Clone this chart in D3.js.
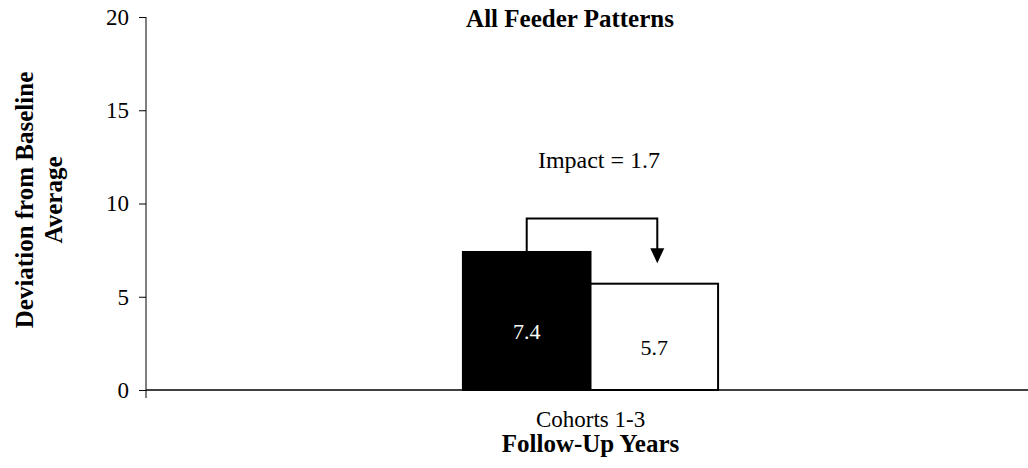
<!DOCTYPE html>
<html lang="en">
<head>
<meta charset="UTF-8">
<title>All Feeder Patterns</title>
<style>
    body { margin: 0; background: #fff; }
    .bold { font-weight: bold; }
</style>
<script src="https://cdn.jsdelivr.net/npm/d3@7"></script>
</head>
<body>
<svg width="1028" height="468"></svg>
<script>
    // data
    var categories = ["Cohorts 1-3"];
    var series = ["Baseline", "Follow-Up"];
    var values = [7.4, 5.7];
    var barFills = ["#000", "#fff"];
    var labelFills = ["#fff", "#000"];
    var yTicks = [0, 5, 10, 15, 20];
    var impactText = "Impact = 1.7";
    var bracketTop = 9.2;   // value where the arrow bracket runs
    var arrowTip = 6.8;

    var serif = "'Liberation Serif', 'Times New Roman', serif";
    var svg = d3.select("svg");

    var mLeft = 146, mRight = 1028, mTop = 17, mBottom = 390;

    var y = d3.scaleLinear().domain([0, 20]).range([mBottom, mTop]);

    var x0 = d3.scaleBand().domain(categories).range([mLeft, 1035]).padding(0.554);
    var x1 = d3.scaleBand().domain(series).range([0, x0.bandwidth()]);

    // y axis
    var yAxis = d3.axisLeft(y).tickValues(yTicks).tickSize(7).tickPadding(10);
    var gy = svg.append("g").attr("transform", "translate(" + mLeft + ",0)").call(yAxis);
    gy.select(".domain").remove();
    gy.selectAll("line").attr("stroke", "#000");
    gy.selectAll("text").style("font-size", "23px").attr("fill", "#000");
    gy.append("line").attr("x1", 0).attr("x2", 0).attr("y1", mTop).attr("y2", mBottom + 8).attr("stroke", "#000");

    // bars
    var g = svg.append("g");
    g.selectAll("rect")
        .data(values)
        .enter().append("rect")
        .attr("x", function (d, i) { return x0(categories[0]) + x1(series[i]); })
        .attr("y", function (d) { return y(d); })
        .attr("width", x1.bandwidth())
        .attr("height", function (d) { return mBottom - y(d); })
        .attr("fill", function (d, i) { return barFills[i]; })
        .attr("stroke", "#000")
        .attr("stroke-width", 2);

    g.selectAll("text.val")
        .data(values)
        .enter().append("text")
        .attr("class", "val")
        .attr("x", function (d, i) { return x0(categories[0]) + x1(series[i]) + x1.bandwidth() / 2; })
        .attr("y", function (d) { return (y(d) + mBottom) / 2 + 18; })
        .attr("text-anchor", "middle")
        .style("font-size", "22px")
        .style("fill", function (d, i) { return labelFills[i]; })
        .text(function (d) { return d.toFixed(1); });

    // x axis
    svg.append("line").attr("x1", mLeft).attr("x2", mRight).attr("y1", mBottom).attr("y2", mBottom)
        .attr("stroke", "#000").attr("stroke-width", 1.5);

    // impact bracket
    var ax = x0(categories[0]) + x1(series[0]) + x1.bandwidth() / 2;
    var bx = x0(categories[0]) + x1(series[1]) + x1.bandwidth() / 2 + 3;
    svg.append("path")
        .attr("d", "M" + ax + "," + y(values[0]) + "V" + y(bracketTop) + "H" + bx + "V" + (y(arrowTip) - 14))
        .attr("fill", "none").attr("stroke", "#000").attr("stroke-width", 2);
    svg.append("path")
        .attr("d", "M" + (bx - 7) + "," + (y(arrowTip) - 15) + "L" + (bx + 7) + "," + (y(arrowTip) - 15) + "L" + bx + "," + y(arrowTip) + "Z")
        .attr("fill", "#000");
    svg.append("text")
        .attr("x", (ax + bx) / 2 + 7)
        .attr("y", y(bracketTop) - 50)
        .attr("text-anchor", "middle")
        .style("font-size", "24px")
        .text(impactText);

    // labels
    svg.append("text").attr("class", "bold")
        .attr("x", 570).attr("y", 27).attr("text-anchor", "middle")
        .style("font-size", "25px").text("All Feeder Patterns");

    svg.append("text")
        .attr("x", x0(categories[0]) + x0.bandwidth() / 2).attr("y", 427).attr("text-anchor", "middle")
        .style("font-size", "23px").text(categories[0]);

    svg.append("text").attr("class", "bold")
        .attr("x", x0(categories[0]) + x0.bandwidth() / 2).attr("y", 452).attr("text-anchor", "middle")
        .style("font-size", "25px").text("Follow-Up Years");

    var yl = svg.append("text").attr("class", "bold")
        .attr("transform", "translate(33,200) rotate(-90)")
        .attr("text-anchor", "middle")
        .style("font-size", "25px");
    yl.append("tspan").attr("x", 0).attr("dy", 0).text("Deviation from Baseline");
    yl.append("tspan").attr("x", 0).attr("dy", 29).text("Average");

    svg.selectAll("text").style("font-family", serif);
</script>
</body>
</html>
